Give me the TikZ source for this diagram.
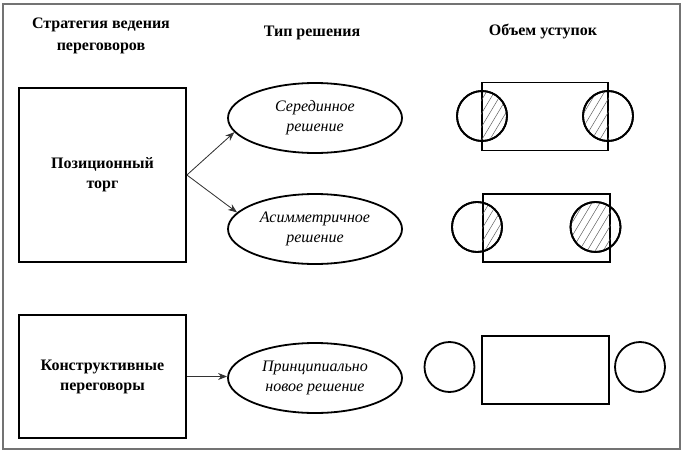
\documentclass[tikz,border=0pt]{standalone}
\usepackage{fontspec}
\setmainfont{Liberation Serif}
\usetikzlibrary{arrows.meta,shapes.geometric,calc}
\newcommand\hatchcut[2]{%
  \begin{scope}
    \clip (#1.south west) rectangle (#1.north east);
    \clip (#2.center) circle (25pt);
    \foreach \k in {-90,-82,...,90}
      \draw[hatch] ($(#2.center)+(\k-30,50)$) -- ++(60,-100);
  \end{scope}}
\begin{document}
\begin{tikzpicture}[x=1pt,y=-1pt,
  hdr/.style={font=\bfseries\fontsize{16}{22}\selectfont, align=center},
  strat/.style={draw, line width=1.8pt, minimum width=167pt, inner sep=0pt,
    font=\bfseries\fontsize{16}{20}\selectfont, align=center},
  sol/.style={draw, ellipse, line width=1.8pt, minimum width=174pt, minimum height=70pt,
    inner sep=0pt, font=\itshape\fontsize{16}{20}\selectfont, align=center},
  conc/.style={draw, line width=1.8pt, inner sep=0pt, minimum width=126pt, minimum height=68pt},
  disc/.style={draw, circle, line width=1.8pt, minimum size=50pt, inner sep=0pt},
  arr/.style={-{Stealth[length=9pt,width=7pt]}, line width=0.8pt, draw=black!80, fill=black!80},
  hatch/.style={draw=black!65, line width=0.5pt},
  frame/.style={draw=black!55, line width=1.2pt}]
\path[use as bounding box] (0,0) rectangle (683,455);
\draw[frame] (3,4) rectangle (680,449);
% headers
\node[hdr] (h1) at (101,36) {Стратегия ведения\\переговоров};
\node[hdr] (h2) at (312,33) {Тип решения};
\node[hdr] (h3) at (543,31) {Объем уступок};
% strategies
\node[strat, minimum height=174pt] (pt) at (102.5,175) {Позиционный\\торг};
\node[strat, minimum height=123pt] (kp) at (102.5,376.5) {Конструктивные\\переговоры};
% solutions
\node[sol] (e1) at (315,118) {Серединное\\решение};
\node[sol] (e2) at (315,229) {Асимметричное\\решение};
\node[sol] (e3) at (315,378) {Принципиально\\новое решение};
% arrows
\draw[arr] (pt.east) -- (e1.190);
\draw[arr] (pt.east) -- (e2.168);
\draw[arr] (kp.east) -- (kp.east -| e3.west);
% concessions 1
\node[conc] (r1) at (545,116.5) {};
\node[disc] (c1a) at (482,116) {};
\node[disc] (c1b) at (608,116) {};
\hatchcut{r1}{c1a}
\hatchcut{r1}{c1b}
\node[disc] at (c1a) {};
\node[disc] at (c1b) {};
% concessions 2
\node[conc, minimum width=127pt] (r2) at (546.5,228) {};
\node[disc] (c2a) at (477,227) {};
\node[disc] (c2b) at (595.5,227) {};
\hatchcut{r2}{c2a}
\hatchcut{r2}{c2b}
\node[disc] at (c2a) {};
\node[disc] at (c2b) {};
% concessions 3
\node[conc, minimum width=127pt] (r3) at (545.5,370) {};
\node[disc] (c3a) at (449.5,367) {};
\node[disc] (c3b) at (640,367) {};
\end{tikzpicture}
\end{document}
